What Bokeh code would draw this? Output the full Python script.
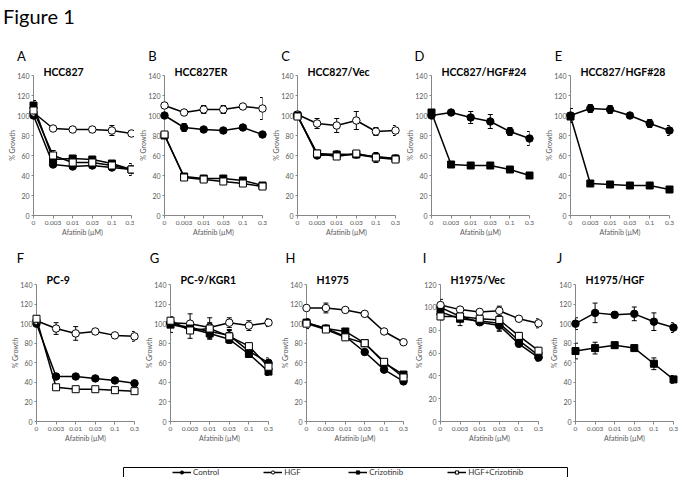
from bokeh.plotting import figure
from bokeh.layouts import column, row
from bokeh.models import (Range1d, FixedTicker, ColumnDataSource, Whisker,
                          TeeHead, Legend, LegendItem, Div, Spacer)
from bokeh.core.properties import value
from bokeh.embed import file_html
from bokeh.resources import INLINE

doses = ["0", "0.003", "0.01", "0.03", "0.1", "0.3"]
series_names = ["Control", "HGF", "Crizotinib", "HGF+Crizotinib"]

# ---- Panel A: HCC827
A_ctrl = [100, 51, 49, 50, 48, 46];     A_ctrl_err = [2, 2, 2, 2, 2, 3]
A_hgf = [103, 87, 86, 86, 85, 82];      A_hgf_err = [3, 2, 3, 3, 5, 3]
A_criz = [110, 56, 57, 56, 52, 46];     A_criz_err = [5, 3, 2, 3, 2, 3]
A_hgfc = [105, 60, 53, 53, 50, 46];     A_hgfc_err = [3, 5, 3, 3, 2, 6]
# ---- Panel B: HCC827ER
B_ctrl = [100, 88, 86, 85, 88, 81];     B_ctrl_err = [2, 4, 2, 2, 2, 2]
B_hgf = [110, 103, 106, 106, 109, 107]; B_hgf_err = [2, 2, 4, 4, 2, 11]
B_criz = [80, 39, 37, 37, 35, 30];      B_criz_err = [2, 2, 2, 2, 2, 2]
B_hgfc = [81, 38, 36, 34, 32, 29];      B_hgfc_err = [2, 2, 2, 2, 2, 2]
# ---- Panel C: HCC827/Vec
C_ctrl = [100, 60, 61, 61, 59, 57];     C_ctrl_err = [2, 2, 2, 2, 2, 2]
C_hgf = [101, 92, 90, 95, 84, 85];      C_hgf_err = [3, 5, 7, 9, 4, 5]
C_criz = [100, 62, 61, 61, 58, 57];     C_criz_err = [2, 2, 2, 2, 2, 2]
C_hgfc = [99, 62, 59, 62, 58, 56];      C_hgfc_err = [2, 3, 3, 3, 5, 3]
# ---- Panel D: HCC827/HGF#24
D_ctrl = [100, 103, 98, 94, 84, 77];    D_ctrl_err = [2, 2, 6, 7, 4, 7]
D_criz = [103, 51, 50, 50, 46, 40];     D_criz_err = [3, 2, 2, 3, 2, 2]
# ---- Panel E: HCC827/HGF#28
E_ctrl = [100, 107, 106, 100, 92, 85];  E_ctrl_err = [7, 4, 4, 2, 4, 5]
E_criz = [99, 32, 31, 30, 30, 26];      E_criz_err = [3, 2, 2, 1, 2, 2]
# ---- Panel F: PC-9
F_ctrl = [100, 46, 46, 44, 42, 39];     F_ctrl_err = [2, 3, 2, 2, 2, 2]
F_hgf = [103, 95, 90, 92, 88, 87];      F_hgf_err = [5, 6, 7, 3, 2, 5]
F_hgfc = [105, 35, 33, 33, 32, 31];     F_hgfc_err = [3, 2, 2, 2, 2, 2]
# ---- Panel G: PC-9/KGR1
G_ctrl = [100, 96, 92, 88, 72, 60];     G_ctrl_err = [3, 4, 8, 5, 4, 5]
G_hgf = [101, 100, 96, 101, 98, 101];   G_hgf_err = [3, 10, 10, 5, 5, 4]
G_criz = [99, 95, 90, 84, 69, 51];      G_criz_err = [8, 5, 5, 4, 3, 4]
G_hgfc = [103, 93, 95, 87, 77, 56];     G_hgfc_err = [3, 8, 6, 7, 3, 5]
# ---- Panel H: H1975
H_ctrl = [101, 95, 87, 71, 53, 41];     H_ctrl_err = [3, 2, 2, 2, 2, 2]
H_hgf = [116, 116, 114, 110, 92, 81];   H_hgf_err = [2, 5, 2, 2, 2, 2]
H_criz = [101, 95, 92, 80, 60, 48];     H_criz_err = [3, 2, 2, 2, 2, 2]
H_hgfc = [100, 94, 86, 80, 61, 45];     H_hgfc_err = [5, 3, 2, 2, 2, 2]
# ---- Panel I: H1975/Vec
I_ctrl = [100, 92, 87, 84, 68, 56];     I_ctrl_err = [3, 3, 3, 5, 2, 3]
I_hgf = [102, 98, 96, 97, 90, 86];      I_hgf_err = [5, 2, 2, 4, 2, 4]
I_criz = [96, 90, 88, 86, 71, 58];      I_criz_err = [4, 6, 3, 6, 3, 3]
I_hgfc = [92, 92, 90, 89, 75, 62];      I_hgfc_err = [3, 3, 3, 3, 3, 3]
# ---- Panel J: H1975/HGF
J_ctrl = [100, 111, 109, 110, 102, 96]; J_ctrl_err = [6, 10, 3, 7, 9, 5]
J_criz = [72, 75, 78, 75, 59, 43];      J_criz_err = [8, 6, 3, 3, 6, 4]

FONT = "Lato"
STYLE = {
    "Control": ("circle", "black"),
    "HGF": ("circle", "white"),
    "Crizotinib": ("square", "black"),
    "HGF+Crizotinib": ("square", "white"),
}

panels_top = [
    ("A", "HCC827", 140, {"Control": (A_ctrl, A_ctrl_err), "HGF": (A_hgf, A_hgf_err),
                          "Crizotinib": (A_criz, A_criz_err), "HGF+Crizotinib": (A_hgfc, A_hgfc_err)}),
    ("B", "HCC827ER", 140, {"Control": (B_ctrl, B_ctrl_err), "HGF": (B_hgf, B_hgf_err),
                            "Crizotinib": (B_criz, B_criz_err), "HGF+Crizotinib": (B_hgfc, B_hgfc_err)}),
    ("C", "HCC827/Vec", 140, {"Control": (C_ctrl, C_ctrl_err), "HGF": (C_hgf, C_hgf_err),
                              "Crizotinib": (C_criz, C_criz_err), "HGF+Crizotinib": (C_hgfc, C_hgfc_err)}),
    ("D", "HCC827/HGF#24", 140, {"Control": (D_ctrl, D_ctrl_err), "Crizotinib": (D_criz, D_criz_err)}),
    ("E", "HCC827/HGF#28", 140, {"Control": (E_ctrl, E_ctrl_err), "Crizotinib": (E_criz, E_criz_err)}),
]
panels_bot = [
    ("F", "PC-9", 140, {"Control": (F_ctrl, F_ctrl_err), "HGF": (F_hgf, F_hgf_err),
                        "HGF+Crizotinib": (F_hgfc, F_hgfc_err)}),
    ("G", "PC-9/KGR1", 140, {"Control": (G_ctrl, G_ctrl_err), "HGF": (G_hgf, G_hgf_err),
                             "Crizotinib": (G_criz, G_criz_err), "HGF+Crizotinib": (G_hgfc, G_hgfc_err)}),
    ("H", "H1975", 140, {"Control": (H_ctrl, H_ctrl_err), "HGF": (H_hgf, H_hgf_err),
                         "Crizotinib": (H_criz, H_criz_err), "HGF+Crizotinib": (H_hgfc, H_hgfc_err)}),
    ("I", "H1975/Vec", 120, {"Control": (I_ctrl, I_ctrl_err), "HGF": (I_hgf, I_hgf_err),
                             "Crizotinib": (I_criz, I_criz_err), "HGF+Crizotinib": (I_hgfc, I_hgfc_err)}),
    ("J", "H1975/HGF", 140, {"Control": (J_ctrl, J_ctrl_err), "Crizotinib": (J_criz, J_criz_err)}),
]

# layout geometry: (figure width, left border, frame width)
top_geo = [(134, 33, 98), (133, 30, 98), (134, 30, 98), (139, 30, 98), (143, 30, 99)]
bot_geo = [(140, 36, 98), (136, 30, 98), (134, 30, 97), (135, 30, 98), (138, 30, 98)]


def make_panel(letter, name, ymax, series, width, left, frame_w, top, frame_h, bottom,
               letter_dx, letter_dy, name_dy):
    p = figure(width=width, height=top + frame_h + bottom,
               x_range=Range1d(0, len(doses) - 1), y_range=Range1d(0, ymax),
               output_backend="svg", toolbar_location=None, title=None,
               min_border_left=left, min_border_right=width - left - frame_w,
               min_border_top=top, min_border_bottom=bottom)
    p.outline_line_color = None
    p.xgrid.visible = False
    p.ygrid.visible = False

    # panel letter and cell-line name (overlay-level text glyphs are not clipped to the frame)
    p.text(x=[0], y=[ymax], text=[letter], x_offset=letter_dx, y_offset=-letter_dy,
           text_align="center", text_baseline="middle", text_font=value(FONT),
           text_font_size="13px", text_color="black", level="overlay")
    p.text(x=[0], y=[ymax], text=[name], x_offset=10, y_offset=-name_dy,
           text_align="left", text_baseline="middle", text_font=value(FONT),
           text_font_size="10.5px", text_font_style="bold", text_color="black",
           level="overlay")

    for ax in (p.xaxis[0], p.yaxis[0]):
        ax.axis_line_color = "#868686"
        ax.major_tick_line_color = "#868686"
        ax.major_tick_out = 3
        ax.major_tick_in = 0
        ax.minor_tick_line_color = None
        ax.major_label_text_font = FONT
        ax.major_label_text_color = "#595959"
        ax.axis_label_text_font = FONT
        ax.axis_label_text_font_size = "7px"
        ax.axis_label_text_font_style = "normal"
        ax.axis_label_text_color = "#595959"
        ax.major_label_standoff = 2
        ax.axis_label_standoff = 0
    p.xaxis.major_label_text_font_size = "6.5px"
    p.yaxis.major_label_text_font_size = "7px"
    p.yaxis.major_tick_out = 2
    p.yaxis.axis_label_standoff = -2
    p.xaxis.ticker = FixedTicker(ticks=list(range(len(doses))))
    p.xaxis.major_label_overrides = {i: d for i, d in enumerate(doses)}
    p.yaxis.ticker = FixedTicker(ticks=list(range(0, ymax + 1, 20)))
    p.xaxis.axis_label = "Afatinib (\u00b5M)"
    p.yaxis.axis_label = "% Growth"

    xs = list(range(len(doses)))
    for sname in series_names:
        if sname not in series:
            continue
        vals, errs = series[sname]
        marker, fill = STYLE[sname]
        src = ColumnDataSource(dict(x=xs, y=vals,
                                    lo=[v - e for v, e in zip(vals, errs)],
                                    hi=[v + e for v, e in zip(vals, errs)]))
        w = Whisker(source=src, base="x", upper="hi", lower="lo", level="annotation",
                    line_color="black", line_width=1,
                    upper_head=TeeHead(size=5, line_color="black", line_width=1),
                    lower_head=TeeHead(size=5, line_color="black", line_width=1))
        p.add_layout(w)
        p.line("x", "y", source=src, line_color="black", line_width=1.5, level="overlay")
        p.scatter("x", "y", source=src, marker=marker, size=7.5 if marker == "circle" else 7,
                  fill_color=fill, line_color="black", line_width=1, level="overlay")
    return p


top_figs = [make_panel(l, n, ym, s, w, lb, fw, 43, 140, 32, -12, 19.5, 4)
            for (l, n, ym, s), (w, lb, fw) in zip(panels_top, top_geo)]
bot_figs = [make_panel(l, n, ym, s, w, lb, fw, 37, 137, 32, -16, 27, 5)
            for (l, n, ym, s), (w, lb, fw) in zip(panels_bot, bot_geo)]

# legend box (legend renderers hold panel A data, placed outside the visible range)
leg = figure(width=445, height=11, x_range=Range1d(0, 1), y_range=Range1d(-2, -1),
             output_backend="svg", toolbar_location=None, title=None,
             x_axis_type=None, y_axis_type=None, min_border=0)
leg.outline_line_color = "black"
leg.outline_line_width = 1
leg.xgrid.visible = False
leg.ygrid.visible = False
legend_data = {"Control": A_ctrl, "HGF": A_hgf, "Crizotinib": A_criz, "HGF+Crizotinib": A_hgfc}
items = []
for sname in series_names:
    marker, fill = STYLE[sname]
    src = ColumnDataSource(dict(x=list(range(len(doses))), y=legend_data[sname]))
    lr = leg.line("x", "y", source=src, line_color="black", line_width=1.5)
    sr = leg.scatter("x", "y", source=src, marker=marker, size=6.5, fill_color=fill,
                     line_color="black", line_width=1)
    items.append(LegendItem(label=sname, renderers=[lr, sr]))
legend = Legend(items=items, orientation="horizontal", location=(49, 0),
                spacing=44, label_standoff=2, glyph_width=19, glyph_height=8,
                padding=0, margin=0, border_line_color=None, background_fill_alpha=0,
                label_text_font=FONT, label_text_font_size="8px", label_text_color="#333333",
                label_height=8)
leg.add_layout(legend, "center")

title_div = Div(text="Figure 1", width=200, height=32, margin=(0, 0, 0, 0),
                styles={"font-family": FONT, "font-size": "20px", "line-height": "32px",
                        "padding-left": "3px", "color": "black"})

layout = column(title_div, row(*top_figs), row(*bot_figs), Spacer(height=13),
                row(Spacer(width=123, height=11), leg))

open("out.html", "w").write(file_html(layout, INLINE))
